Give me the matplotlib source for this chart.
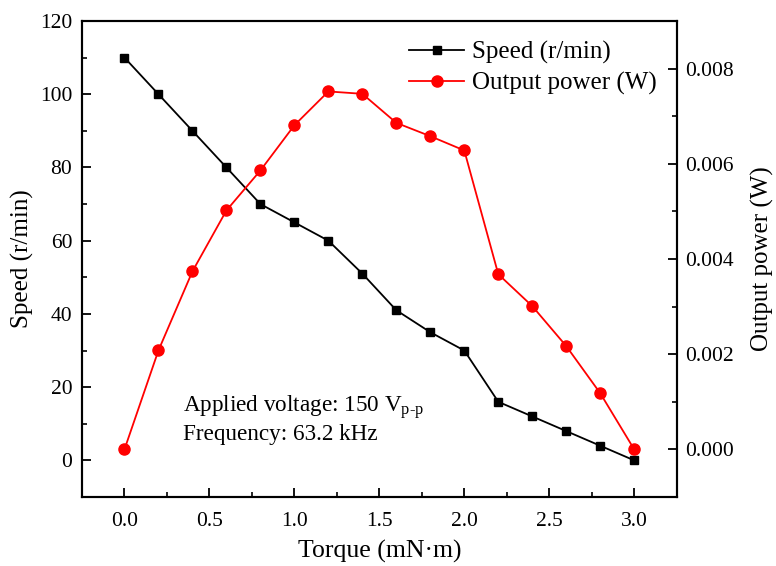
import matplotlib
matplotlib.use("Agg")
import matplotlib.pyplot as plt
from matplotlib.ticker import MultipleLocator

plt.rcParams['font.family'] = ['Liberation Serif', 'DejaVu Serif']
plt.rcParams['mathtext.fontset'] = 'custom'
plt.rcParams['mathtext.rm'] = 'Liberation Serif'

torque = [0.0, 0.2, 0.4, 0.6, 0.8, 1.0, 1.2, 1.4, 1.6, 1.8, 2.0, 2.2, 2.4, 2.6, 2.8, 3.0]
speed = [110, 100, 90, 80, 70, 65, 60, 51, 41, 35, 30, 16, 12, 8, 4, 0]
power = [0.0, 0.00208, 0.00374, 0.00502, 0.00586, 0.00681, 0.00752, 0.00747,
         0.00686, 0.00658, 0.00628, 0.00368, 0.00301, 0.00217, 0.00118, 0.0]
xticks = [0.0, 0.5, 1.0, 1.5, 2.0, 2.5, 3.0]
xticklabels = ['0.0', '0.5', '1.0', '1.5', '2.0', '2.5', '3.0']
pticks = [0.0, 0.002, 0.004, 0.006, 0.008]
pticklabels = ['0.000', '0.002', '0.004', '0.006', '0.008']

fig = plt.figure(figsize=(7.76, 5.66), dpi=100)
ax = fig.add_axes([82/776, 1-497/566, (676.7-82)/776, (497-21)/566])
ax2 = ax.twinx()

l1, = ax.plot(torque, speed, color='black', marker='s', markersize=6.3, linewidth=1.3,
              label='Speed (r/min)')
l2, = ax2.plot(torque, power, color='red', marker='o', markersize=8, linewidth=1.3,
               label='Output power (W)')

ax.set_xlim(-0.25, 3.25)
ax.set_ylim(-10, 120)
ax2.set_ylim(-0.001, 0.009)
ax.set_xticks(xticks)
ax.set_xticklabels(xticklabels)
ax.xaxis.set_minor_locator(MultipleLocator(0.25))
ax.yaxis.set_major_locator(MultipleLocator(20))
ax.yaxis.set_minor_locator(MultipleLocator(10))
ax2.set_yticks(pticks)
ax2.set_yticklabels(pticklabels)
ax2.yaxis.set_minor_locator(MultipleLocator(0.001))

for a in (ax, ax2):
    a.tick_params(which='major', direction='in', length=6.5, width=1.3, labelsize=15.5)
    a.tick_params(which='minor', direction='in', length=3.8, width=1.2)
    for s in a.spines.values():
        s.set_linewidth(1.5)
ax.tick_params(axis='x', which='both', top=False)
ax.tick_params(axis='x', pad=11)
ax.tick_params(axis='y', pad=7)
ax2.tick_params(axis='y', pad=6)

ax.set_xlabel('Torque (mN·m)', fontsize=18.5, labelpad=6)
ax.set_ylabel('Speed (r/min)', fontsize=18, labelpad=4)
ax2.set_ylabel('Output power (W)', fontsize=18, labelpad=12)

ax.text(0.345, 13.2, 'Applied voltage: 150 V$_{\\mathrm{p\\text{-}p}}$', fontsize=16.7,
        va='baseline', ha='left')
ax.text(0.345, 5.7, 'Frequency: 63.2 kHz', fontsize=16.7, va='baseline', ha='left')

ax.legend(handles=[l1, l2], loc='upper right', frameon=False, fontsize=18,
          handlelength=2.2, borderaxespad=0.4, labelspacing=0.3, handletextpad=0.3)

fig.savefig('out.png', dpi=100)
